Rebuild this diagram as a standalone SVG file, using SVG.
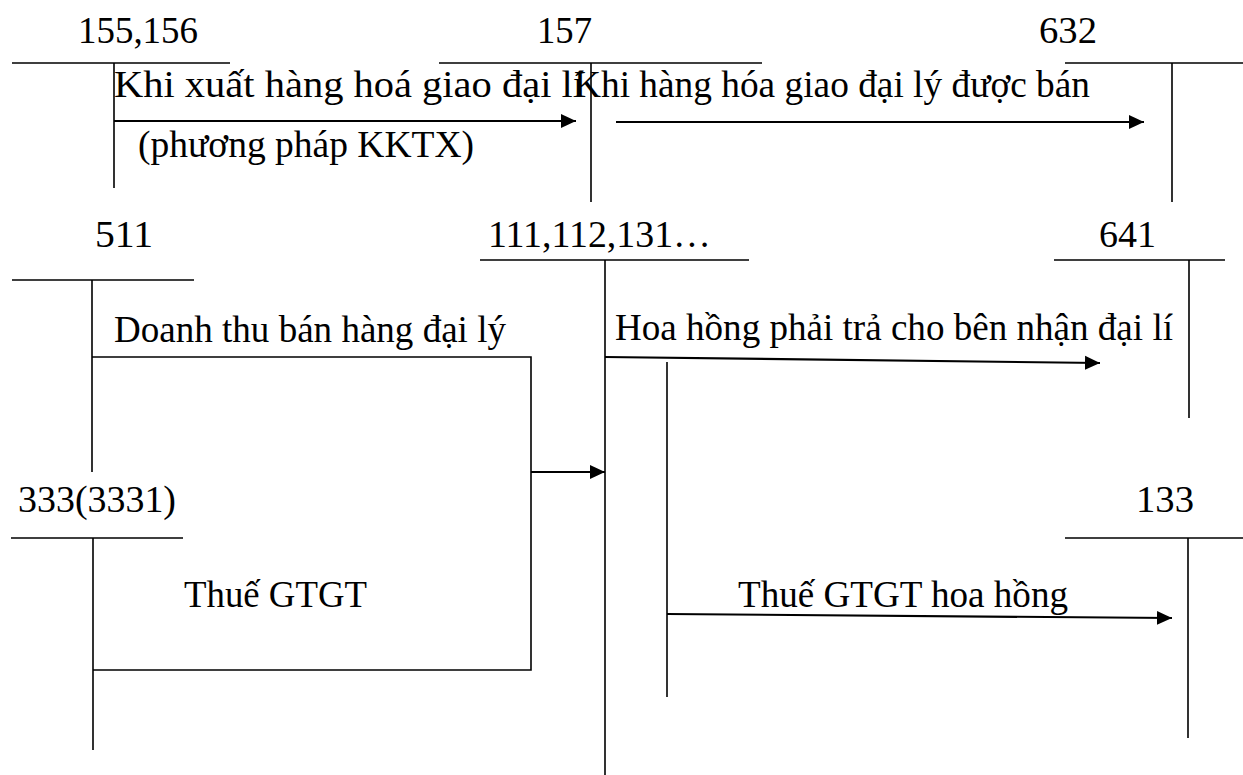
<svg xmlns="http://www.w3.org/2000/svg" width="1243" height="775" viewBox="0 0 1243 775">
<style>
text{font-family:"Liberation Serif","Times New Roman",serif;font-size:38px;fill:#000}
.t{stroke:#000;stroke-width:1.6;fill:none}
.c{stroke:#000;stroke-width:1.6;fill:none}
.a{stroke:#000;stroke-width:2.2;fill:none;marker-end:url(#ah)}
</style>
<defs>
<marker id="ah" markerUnits="userSpaceOnUse" markerWidth="16" markerHeight="16" viewBox="0 0 16 16" refX="15" refY="8" orient="auto">
<path d="M0,1 L15,8 L0,15 Z" fill="#000"/>
</marker>
</defs>
<rect width="1243" height="775" fill="#fff"/>
<g id="acc-155-156">
<text x="78" y="43" textLength="120" lengthAdjust="spacingAndGlyphs">155,156</text>
<path class="t" d="M12,63 H230 M114,63 V188"/>
</g>
<g id="acc-157">
<text x="537" y="43" textLength="55" lengthAdjust="spacingAndGlyphs">157</text>
<path class="t" d="M439,63 H762 M591,63 V202"/>
</g>
<g id="acc-632">
<text x="1039" y="43" textLength="58" lengthAdjust="spacingAndGlyphs">632</text>
<path class="t" d="M1065,63 H1243 M1172,63 V202"/>
</g>
<g id="acc-511">
<text x="95" y="247" textLength="58" lengthAdjust="spacingAndGlyphs">511</text>
<path class="t" d="M12,280 H194 M92,280 V472"/>
</g>
<g id="acc-111">
<text x="488" y="247" textLength="223" lengthAdjust="spacingAndGlyphs">111,112,131…</text>
<path class="t" d="M480,260 H749 M605,260 V775"/>
</g>
<g id="acc-641">
<text x="1099" y="247" textLength="57" lengthAdjust="spacingAndGlyphs">641</text>
<path class="t" d="M1054,260 H1225 M1189,260 V418"/>
</g>
<g id="acc-333">
<text x="18" y="512" textLength="158" lengthAdjust="spacingAndGlyphs">333(3331)</text>
<path class="t" d="M11,538 H183 M93,538 V750"/>
</g>
<g id="acc-133">
<text x="1136" y="512" textLength="58" lengthAdjust="spacingAndGlyphs">133</text>
<path class="t" d="M1065,538 H1243 M1188,538 V738"/>
</g>
<g id="connectors">
<path class="a" d="M114,121 H576"/>
<path class="a" d="M616,122 H1144"/>
<path class="c" d="M92,357 H531 V670 H93"/>
<path class="a" d="M531,472 H605"/>
<path class="a" d="M605,357 L1100,363"/>
<path class="c" d="M667,362 V697"/>
<path class="a" d="M667,614 L1172,618"/>
</g>
<g id="labels">
<text x="114" y="97" textLength="470" lengthAdjust="spacingAndGlyphs">Khi xuất hàng hoá giao đại lí</text>
<text x="138" y="157" textLength="336" lengthAdjust="spacingAndGlyphs">(phương pháp KKTX)</text>
<text x="574" y="97" textLength="516" lengthAdjust="spacingAndGlyphs">Khi hàng hóa giao đại lý được bán</text>
<text x="114" y="342" textLength="392" lengthAdjust="spacingAndGlyphs">Doanh thu bán hàng đại lý</text>
<text x="615" y="340" textLength="558" lengthAdjust="spacingAndGlyphs">Hoa hồng phải trả cho bên nhận đại lí</text>
<text x="184" y="607" textLength="183" lengthAdjust="spacingAndGlyphs">Thuế GTGT</text>
<text x="738" y="607" textLength="330" lengthAdjust="spacingAndGlyphs">Thuế GTGT hoa hồng</text>
</g>
</svg>
